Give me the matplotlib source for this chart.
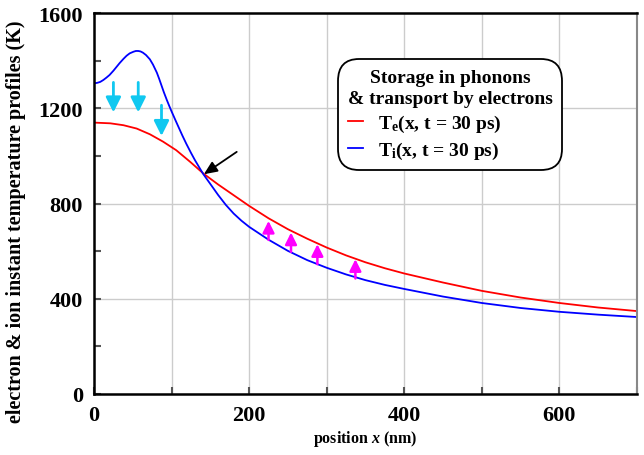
import matplotlib
matplotlib.use("Agg")
import matplotlib.pyplot as plt
from matplotlib.ticker import MultipleLocator

plt.rcParams["font.family"] = "Liberation Serif"
plt.rcParams["font.weight"] = "bold"
plt.rcParams["mathtext.fontset"] = "custom"
plt.rcParams["mathtext.rm"] = "Liberation Serif:bold"
plt.rcParams["mathtext.it"] = "Liberation Serif:italic:bold"
plt.rcParams["mathtext.bf"] = "Liberation Serif:bold"

# ion temperature profile Ti(x) at t = 30 ps
x_i = [0, 4, 8, 12, 16, 20, 25, 29, 33, 38, 42, 46, 51, 54, 57, 60, 63, 67,
       72, 76, 81, 84, 87, 90, 94, 97, 100, 105, 109, 114, 119, 125, 130, 136,
       141, 150, 160, 170, 180, 190, 200, 225, 250, 275, 300, 325, 350, 375,
       400, 450, 500, 550, 600, 650, 700]
T_i = [1305, 1307, 1311, 1319, 1329, 1340, 1358, 1374, 1390, 1408, 1421, 1431,
       1438, 1441, 1441, 1439, 1434, 1424, 1406, 1384, 1350, 1324, 1296, 1268,
       1234, 1210, 1187, 1150, 1121, 1085, 1051, 1013, 983, 950, 923, 882, 836,
       794, 758, 728, 702, 648, 601, 562, 530, 502, 478, 458, 441, 409, 382,
       361, 345, 333, 323]

# electron temperature profile Te(x) at t = 30 ps
x_e = [0, 21, 38, 55, 72, 89, 106, 124, 141, 160, 180, 200, 225, 250, 275,
       300, 325, 350, 375, 400, 450, 500, 550, 600, 650, 700]
T_e = [1140, 1137, 1129, 1115, 1091, 1060, 1024, 975, 926, 880, 835, 790, 738,
       692, 652, 615, 582, 553, 528, 506, 468, 433, 405, 382, 363, 348]

# energy flow arrows: (x, T start, T end)
down_x = [25, 57, 87]
down_T0 = [1309, 1309, 1213]
down_T1 = [1183, 1183, 1084]
up_x = [225, 254, 288, 337]
up_T0 = [647, 597, 545, 485]
up_T1 = [727, 678, 629, 566]

fig = plt.figure(figsize=(6.44, 4.56), dpi=100)
ax = fig.add_axes([0.146, 0.134, 0.843, 0.835])

ax.plot(x_e, T_e, color="red", lw=1.3, label=r"T$_\mathregular{e}$(x, t = 30 ps)")
ax.plot(x_i, T_i, color="blue", lw=1.3, label=r"T$_\mathregular{i}$(x, t = 30 ps)")

for x, t0, t1 in zip(down_x, down_T0, down_T1):
    ax.annotate("", xy=(x, t1), xytext=(x, t0),
                arrowprops=dict(arrowstyle="-|>,head_length=0.9,head_width=0.45",
                                color="#10c8f0", lw=2, shrinkA=0, shrinkB=0))
for x, t0, t1 in zip(up_x, up_T0, up_T1):
    ax.annotate("", xy=(x, t1), xytext=(x, t0),
                arrowprops=dict(arrowstyle="-|>,head_length=0.7,head_width=0.35",
                                color="#ff00ff", lw=1.8, shrinkA=0, shrinkB=0))

# crossing point of the two profiles
ax.annotate("", xy=(141.6, 923), xytext=(184, 1017),
            arrowprops=dict(arrowstyle="-|>,head_length=0.8,head_width=0.35",
                            color="black", lw=1.3, shrinkA=0, shrinkB=0))

ax.set_xlim(0, 700)
ax.set_ylim(0, 1600)
ax.xaxis.set_major_locator(MultipleLocator(200))
ax.xaxis.set_minor_locator(MultipleLocator(100))
ax.yaxis.set_major_locator(MultipleLocator(400))
ax.yaxis.set_minor_locator(MultipleLocator(200))
ax.grid(True, which="major", axis="y", color="#cccccc", lw=1)
ax.grid(True, which="both", axis="x", color="#cccccc", lw=1)
ax.set_axisbelow(True)
ax.tick_params(which="both", direction="in", color="#555555", width=1.5)
ax.tick_params(which="major", length=5, labelsize=16, pad=8)
ax.tick_params(which="minor", length=5)

for side in ["left", "bottom", "top"]:
    ax.spines[side].set_linewidth(1.8)
    ax.spines[side].set_color("black")
ax.spines["right"].set_color("#888888")
ax.spines["right"].set_linewidth(1.5)

ax.set_xlabel(r"position $x$ (nm)", fontsize=11.5, fontweight="bold", labelpad=2)
ax.set_ylabel("electron & ion instant temperature profiles (K)", fontsize=14.5,
              fontweight="bold")
ax.yaxis.set_label_coords(-0.125, 0.455)

leg = ax.legend(title="Storage in phonons\n& transport by electrons",
                loc="upper left", bbox_to_anchor=(0.449, 0.879),
                borderaxespad=0, fontsize=14, alignment="left",
                title_fontproperties=dict(size=14, weight="bold"),
                handlelength=0.8, handletextpad=0.75, labelspacing=0.3,
                borderpad=0.5, fancybox=True, framealpha=1, edgecolor="black")
leg.get_title().set_multialignment("center")
leg.get_title().set_linespacing(1.3)
leg.get_frame().set_boxstyle("round,pad=0,rounding_size=1.1")
leg.get_frame().set_linewidth(1.3)
for line in leg.get_lines():
    line.set_linewidth(1.3)

fig.savefig("out.png", dpi=100)
